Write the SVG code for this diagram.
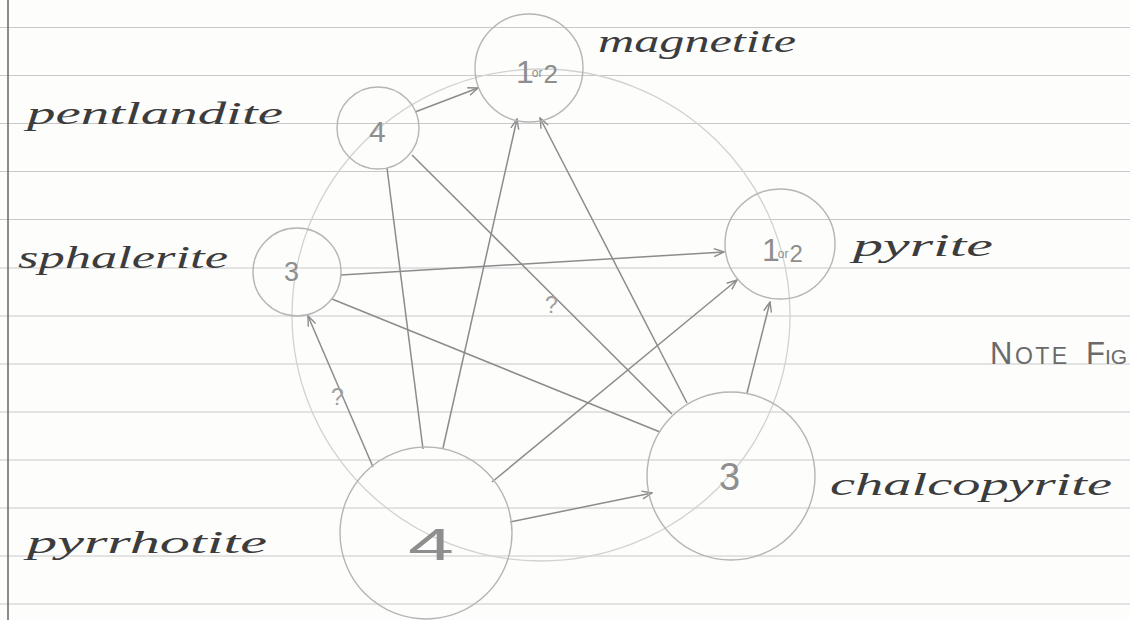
<svg xmlns="http://www.w3.org/2000/svg" width="1130" height="620" viewBox="0 0 1130 620">
  <style>
    .rule { stroke: #c9c9c9; stroke-width: 1.2; }
    .margin { stroke: #5a5a5a; stroke-width: 1.4; }
    .guide { fill: none; stroke: #d2d2d2; stroke-width: 1.3; }
    .node { fill: none; stroke: #b5b5b5; stroke-width: 1.4; }
    .num { font-family: "Liberation Sans", Arial, sans-serif; fill: #8e8e8e; }
    .edge { stroke: #8c8c8c; stroke-width: 1.5; fill: none; }
    .arr { marker-end: url(#v); }
    .ink { font-family: "Liberation Serif", "Times New Roman", serif; font-style: italic; fill: #3c3c3c; font-size: 31px; }
    .q { font-family: "Liberation Sans", Arial, sans-serif; fill: #a0a0a0; font-size: 23px; }
    .note { font-family: "Liberation Sans", Arial, sans-serif; fill: #6a6a6a; }
  </style>
  <defs>
    <marker id="v" viewBox="0 0 12 10" refX="11" refY="5" markerWidth="12" markerHeight="10" markerUnits="userSpaceOnUse" orient="auto">
      <path d="M1,1 L11,5 L1,9" fill="none" stroke="#8c8c8c" stroke-width="1.4"/>
    </marker>
  </defs>

  <!-- notebook paper -->
  <rect width="1130" height="620" fill="#fdfdfc"/>
  <g id="paper">
    <line class="rule" x1="0" y1="27.5" x2="1130" y2="27.5"/>
    <line class="rule" x1="0" y1="75.5" x2="1130" y2="75.5"/>
    <line class="rule" x1="0" y1="123.5" x2="1130" y2="123.5"/>
    <line class="rule" x1="0" y1="171.5" x2="1130" y2="171.5"/>
    <line class="rule" x1="0" y1="219.5" x2="1130" y2="219.5"/>
    <line class="rule" x1="0" y1="268" x2="1130" y2="268"/>
    <line class="rule" x1="0" y1="316" x2="1130" y2="316"/>
    <line class="rule" x1="0" y1="364" x2="1130" y2="364"/>
    <line class="rule" x1="0" y1="412" x2="1130" y2="412"/>
    <line class="rule" x1="0" y1="460" x2="1130" y2="460"/>
    <line class="rule" x1="0" y1="508" x2="1130" y2="508"/>
    <line class="rule" x1="0" y1="556" x2="1130" y2="556"/>
    <line class="rule" x1="0" y1="604" x2="1130" y2="604"/>
    <line class="margin" x1="8" y1="0" x2="8" y2="620"/>
  </g>

  <!-- faint construction circle through the nodes -->
  <ellipse class="guide" cx="541" cy="315" rx="249" ry="246"/>

  <!-- connectors -->
  <g id="connectors">
    <line class="edge arr" x1="415" y1="112" x2="478" y2="88"/>
    <line class="edge" x1="387" y1="168" x2="423" y2="449"/>
    <line class="edge arr" x1="443" y1="448" x2="517" y2="119"/>
    <line class="edge arr" x1="687" y1="403" x2="540" y2="118"/>
    <line class="edge" x1="412" y1="155" x2="672" y2="414"/>
    <line class="edge" x1="332" y1="299" x2="660" y2="432"/>
    <line class="edge arr" x1="341" y1="275" x2="724" y2="252"/>
    <line class="edge arr" x1="373" y1="467" x2="308" y2="316"/>
    <line class="edge arr" x1="492" y1="482" x2="737" y2="280"/>
    <line class="edge arr" x1="747" y1="393" x2="770" y2="302"/>
    <line class="edge arr" x1="510" y1="522" x2="652" y2="493"/>
    <text class="q" x="331" y="405">?</text>
    <text class="q" x="545" y="313">?</text>
  </g>

  <!-- nodes -->
  <g id="magnetite">
    <circle class="node" cx="529" cy="68" r="54"/>
    <text class="num" x="516" y="83" font-size="32">1<tspan font-size="12" dy="-6" dx="-2">or</tspan><tspan font-size="26" dy="6" dx="1">2</tspan></text>
    <text class="ink" x="598" y="52" textLength="198" lengthAdjust="spacingAndGlyphs">magnetite</text>
  </g>
  <g id="pentlandite">
    <circle class="node" cx="378" cy="128" r="41"/>
    <text class="num" x="369" y="142" font-size="30">4</text>
    <text class="ink" x="27" y="124" textLength="256" lengthAdjust="spacingAndGlyphs">pentlandite</text>
  </g>
  <g id="sphalerite">
    <circle class="node" cx="297" cy="272" r="44"/>
    <text class="num" x="284" y="281" font-size="27">3</text>
    <text class="ink" x="18" y="268" textLength="210" lengthAdjust="spacingAndGlyphs">sphalerite</text>
  </g>
  <g id="pyrite">
    <circle class="node" cx="780" cy="244" r="55"/>
    <text class="num" x="762" y="261" font-size="32">1<tspan font-size="12" dx="-2" dy="-3">or</tspan><tspan font-size="24" dy="4" dx="1">2</tspan></text>
    <text class="ink" x="853" y="256" textLength="140" lengthAdjust="spacingAndGlyphs">pyrite</text>
  </g>
  <g id="pyrrhotite">
    <circle class="node" cx="426" cy="533" r="86"/>
    <text class="num" x="408" y="560" font-size="44" textLength="46" lengthAdjust="spacingAndGlyphs" fill="#9a9a9a">4</text>
    <text class="ink" x="27" y="553" textLength="240" lengthAdjust="spacingAndGlyphs">pyrrhotite</text>
  </g>
  <g id="chalcopyrite">
    <circle class="node" cx="731" cy="476" r="84"/>
    <text class="num" x="719" y="490" font-size="38" fill="#9a9a9a">3</text>
    <text class="ink" x="830" y="495" textLength="282" lengthAdjust="spacingAndGlyphs">chalcopyrite</text>
  </g>

  <text class="note" x="990" y="364" font-size="31" letter-spacing="2.5">N<tspan font-size="23">OTE</tspan></text>
  <text class="note" x="1086" y="364" font-size="31">F<tspan font-size="21">IG</tspan></text>
</svg>
